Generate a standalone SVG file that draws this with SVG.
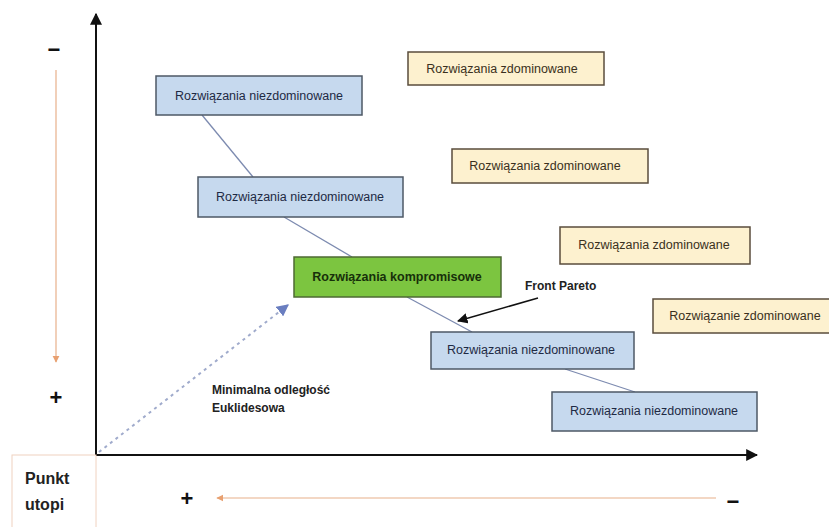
<svg xmlns="http://www.w3.org/2000/svg" width="829" height="527" viewBox="0 0 829 527">
<style>
.blue rect{fill:#c6d9ee;stroke:#4d5866;stroke-width:1.5}
.yel rect{fill:#fdf1cf;stroke:#5a4c3c;stroke-width:1.5}
.grn rect{fill:#7cc540;stroke:#4d6a33;stroke-width:1.5}
.bt{font-family:"Liberation Sans",Arial,sans-serif;font-size:12.5px;fill:#1e2a44;text-anchor:middle}
.yt{font-family:"Liberation Sans",Arial,sans-serif;font-size:12.5px;fill:#3a3020;text-anchor:middle}
.gt{font-family:"Liberation Sans",Arial,sans-serif;font-size:12.5px;font-weight:bold;fill:#17300a;text-anchor:middle}
.lbl{font-family:"Liberation Sans",Arial,sans-serif;font-size:12px;font-weight:bold;fill:#222}
.sign{font-family:"Liberation Sans",Arial,sans-serif;font-size:22px;font-weight:bold;fill:#111;text-anchor:middle}
.conn{stroke:#7d8bb0;stroke-width:1.3;fill:none}
</style>
<defs>
<marker id="ab" viewBox="0 0 10 10" refX="9" refY="5" markerWidth="6" markerHeight="6" orient="auto"><path d="M0,0L10,5L0,10z" fill="#111"/></marker>
<marker id="ao" viewBox="0 0 10 10" refX="9" refY="5" markerWidth="6" markerHeight="6" orient="auto"><path d="M0,0L10,5L0,10z" fill="#e8a070"/></marker>
<marker id="abl" viewBox="0 0 10 10" refX="9" refY="5" markerWidth="6" markerHeight="6" orient="auto"><path d="M0,0L10,5L0,10z" fill="#6a7ec0"/></marker>
<marker id="ak" viewBox="0 0 10 10" refX="9" refY="5" markerWidth="7" markerHeight="7" orient="auto"><path d="M0,0L10,5L0,10z" fill="#111"/></marker>
</defs>

<g id="axes">
<line x1="96" y1="455" x2="96" y2="14" stroke="#111" stroke-width="2" marker-end="url(#ab)"/>
<line x1="96" y1="455" x2="757" y2="455" stroke="#111" stroke-width="2" marker-end="url(#ab)"/>
<line x1="56" y1="70" x2="56" y2="362" stroke="#e8b08a" stroke-width="1.2" marker-end="url(#ao)"/>
<line x1="716" y1="498" x2="217" y2="498" stroke="#e8b08a" stroke-width="1.2" marker-end="url(#ao)"/>
<text class="sign" x="54" y="57">−</text>
<text class="sign" x="56" y="405">+</text>
<text class="sign" x="187" y="506">+</text>
<text class="sign" x="733" y="509">−</text>
</g>

<g id="connectors">
<line class="conn" x1="202" y1="115" x2="253" y2="177"/>
<line class="conn" x1="284" y1="217" x2="352" y2="257"/>
<line class="conn" x1="407" y1="297" x2="472" y2="332"/>
<line class="conn" x1="565" y1="369" x2="635" y2="392"/>
<line x1="99" y1="452" x2="288" y2="305" stroke="#a0abcc" stroke-width="2" stroke-dasharray="3,4" marker-end="url(#abl)"/>
<line x1="538" y1="298" x2="458" y2="321" stroke="#111" stroke-width="1.5" marker-end="url(#ak)"/>
</g>

<g id="n1" class="blue"><rect x="156" y="76" width="206" height="39"/><text class="bt" x="259" y="100">Rozwiązania niezdominowane</text></g>
<g id="n2" class="blue"><rect x="198" y="177" width="205" height="40"/><text class="bt" x="300" y="201">Rozwiązania niezdominowane</text></g>
<g id="n3" class="grn"><rect x="294" y="257" width="207" height="40"/><text class="gt" x="397" y="281">Rozwiązania kompromisowe</text></g>
<g id="n4" class="blue"><rect x="431" y="332" width="203" height="37"/><text class="bt" x="531" y="354">Rozwiązania niezdominowane</text></g>
<g id="n5" class="blue"><rect x="552" y="392" width="205" height="39"/><text class="bt" x="654" y="415">Rozwiązania niezdominowane</text></g>

<g id="y1" class="yel"><rect x="408" y="52" width="196" height="33"/><text class="yt" x="502" y="73">Rozwiązania zdominowane</text></g>
<g id="y2" class="yel"><rect x="452" y="149" width="196" height="34"/><text class="yt" x="545" y="170">Rozwiązania zdominowane</text></g>
<g id="y3" class="yel"><rect x="560" y="227" width="190" height="37"/><text class="yt" x="654" y="249">Rozwiązania zdominowane</text></g>
<g id="y4" class="yel"><rect x="653" y="299" width="180" height="34"/><text class="yt" x="745" y="320">Rozwiązanie zdominowane</text></g>

<g id="utopia">
<rect x="12" y="455" width="84" height="76" fill="#fff" stroke="#f0d2c0" stroke-width="1"/>
<text x="25" y="484" font-family="Liberation Sans,Arial,sans-serif" font-size="16" font-weight="bold" fill="#222">Punkt</text>
<text x="25" y="510" font-family="Liberation Sans,Arial,sans-serif" font-size="16" font-weight="bold" fill="#222">utopi</text>
</g>

<g id="labels">
<text class="lbl" x="525" y="290">Front Pareto</text>
<text class="lbl" x="212" y="394">Minimalna odległość</text>
<text class="lbl" x="212" y="412">Euklidesowa</text>
</g>
</svg>
